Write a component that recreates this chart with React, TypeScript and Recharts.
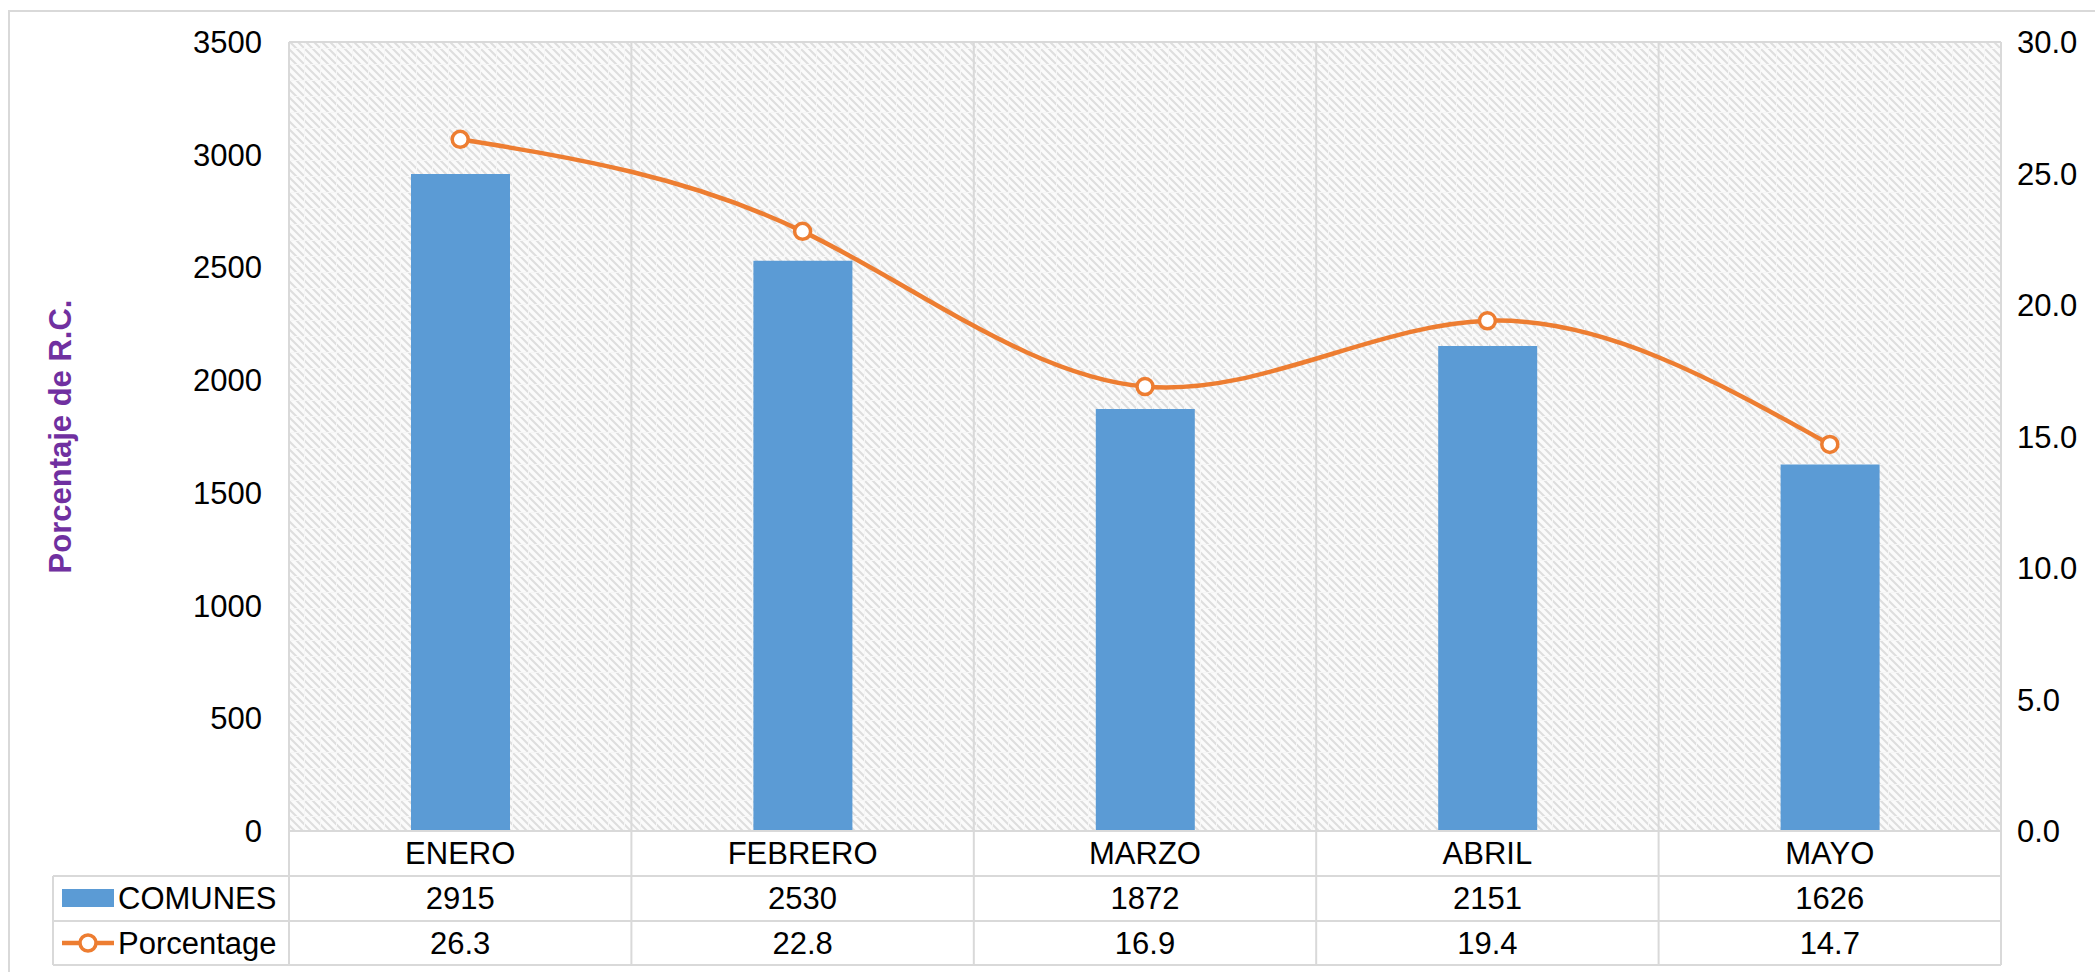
import React from "react";
import { ComposedChart, Bar, Line, XAxis, YAxis, CartesianGrid } from "recharts";

const months = ["ENERO", "FEBRERO", "MARZO", "ABRIL", "MAYO"];
const comunes = [2915, 2530, 1872, 2151, 1626];
const porcentage = [26.3, 22.8, 16.9, 19.4, 14.7];
const leftTicks = [0, 500, 1000, 1500, 2000, 2500, 3000, 3500];
const rightTicks = [0, 5, 10, 15, 20, 25, 30];

const data = months.map((m, i) => ({ month: m, comunes: comunes[i], pct: porcentage[i] }));

const W = 2095;
const H = 972;
const FONT = "'Liberation Sans', Arial, sans-serif";
const GRID = "#d9d9d9";
const BLUE = "#5B9BD5";
const ORANGE = "#ED7D31";

// plot area spans 289..2001, 5 categories
const BAND = (2001 - 289) / months.length;
const TABLE_LEFT = 53;

const TableTick = (props: any) => {
  const { x, y, payload } = props;
  const i = payload.index;
  const half = BAND / 2;
  const r1 = y + 45;
  const r2 = y + 90;
  const r3 = y + 134;
  return (
    <g>
      <line x1={x + half} x2={x + half} y1={y} y2={r3} stroke={GRID} strokeWidth={2} />
      {i === 0 && (
        <g>
          <line x1={x - half} x2={x - half} y1={y} y2={r3} stroke={GRID} strokeWidth={2} />
          <line x1={TABLE_LEFT} x2={TABLE_LEFT} y1={r1} y2={r3} stroke={GRID} strokeWidth={2} />
          {[r1, r2, r3].map((ry) => (
            <line key={ry} x1={TABLE_LEFT} x2={2001} y1={ry} y2={ry} stroke={GRID} strokeWidth={2} />
          ))}
          <rect x={62} y={r1 + 13} width={52} height={18} fill={BLUE} />
          <text x={118} y={(r1 + r2) / 2} dominantBaseline="central" fontSize={31} fill="#000" fontFamily={FONT}>
            COMUNES
          </text>
          <line x1={62} x2={114} y1={(r2 + r3) / 2} y2={(r2 + r3) / 2} stroke={ORANGE} strokeWidth={4.5} />
          <circle cx={88} cy={(r2 + r3) / 2} r={8} fill="#fff" stroke={ORANGE} strokeWidth={3.5} />
          <text x={118} y={(r2 + r3) / 2} dominantBaseline="central" fontSize={31} fill="#000" fontFamily={FONT}>
            Porcentage
          </text>
        </g>
      )}
      <text x={x} y={(y + r1) / 2} textAnchor="middle" dominantBaseline="central" fontSize={31} fill="#000" fontFamily={FONT}>
        {payload.value}
      </text>
      <text x={x} y={(r1 + r2) / 2} textAnchor="middle" dominantBaseline="central" fontSize={31} fill="#000" fontFamily={FONT}>
        {comunes[i]}
      </text>
      <text x={x} y={(r2 + r3) / 2} textAnchor="middle" dominantBaseline="central" fontSize={31} fill="#000" fontFamily={FONT}>
        {porcentage[i].toFixed(1)}
      </text>
    </g>
  );
};

const YTitle = (props: any) => {
  const vb = props.viewBox || { y: 42, height: 789 };
  const cy = vb.y + vb.height / 2;
  return (
    <text
      x={60}
      y={cy}
      transform={`rotate(-90 60 ${cy})`}
      textAnchor="middle"
      dominantBaseline="central"
      fontSize={31}
      fontWeight="bold"
      fill="#7030A0"
      fontFamily={FONT}
    >
      Porcentaje de R.C.
    </text>
  );
};

export default function App() {
  return (
    <div style={{ position: "relative", width: W, height: H, background: "#fff", overflow: "hidden" }}>
      <style>{"body{margin:0;overflow:hidden;}"}</style>
      <div
        style={{
          position: "absolute",
          left: 8,
          top: 10,
          width: W,
          height: H,
          border: `2px solid ${GRID}`,
          boxSizing: "border-box",
        }}
      />
      <div style={{ position: "absolute", left: 0, top: 0 }}>
        <ComposedChart width={W} height={H} data={data} margin={{ top: 42, right: 0, bottom: 0, left: 0 }}>
          <defs>
            <pattern id="hatch" width={16} height={16} patternUnits="userSpaceOnUse">
              <rect width={16} height={16} fill="#fbfbfb" />
              <path
                d="M-2,-2 L18,18 M-2,6 L10,18 M6,-2 L18,10 M-2,14 L2,18 M14,-2 L18,2"
                stroke="#dedede"
                strokeWidth={2}
              />
              <path d="M0,0.5 H16 M0.5,0 V16" stroke="#f6f6f6" strokeWidth={1} />
            </pattern>
          </defs>
          <CartesianGrid
            fill="url(#hatch)"
            stroke={GRID}
            strokeWidth={2}
            verticalCoordinatesGenerator={({ offset }: any) =>
              [0, 1, 2, 3, 4, 5].map((k) => offset.left + (offset.width * k) / months.length)
            }
          />
          <XAxis
            dataKey="month"
            height={141}
            tickLine={false}
            tickSize={0}
            tickMargin={0}
            axisLine={{ stroke: GRID, strokeWidth: 2 }}
            tick={<TableTick />}
            interval={0}
          />
          <YAxis
            yAxisId="left"
            width={289}
            domain={[0, 3500]}
            ticks={leftTicks}
            axisLine={false}
            tickLine={false}
            tickSize={0}
            tickMargin={27}
            tick={{ fontSize: 31, fill: "#000", fontFamily: FONT }}
            label={<YTitle />}
          />
          <YAxis
            yAxisId="right"
            orientation="right"
            width={94}
            domain={[0, 30]}
            ticks={rightTicks}
            axisLine={false}
            tickLine={false}
            tickSize={0}
            tickMargin={16}
            tickFormatter={(v: number) => v.toFixed(1)}
            tick={{ fontSize: 31, fill: "#000", fontFamily: FONT }}
          />
          <Bar yAxisId="left" dataKey="comunes" fill={BLUE} barSize={99} isAnimationActive={false} />
          <Line
            yAxisId="right"
            type="natural"
            dataKey="pct"
            stroke={ORANGE}
            strokeWidth={4.5}
            dot={{ r: 8, fill: "#fff", stroke: ORANGE, strokeWidth: 3.5 }}
            isAnimationActive={false}
          />
        </ComposedChart>
      </div>
    </div>
  );
}
